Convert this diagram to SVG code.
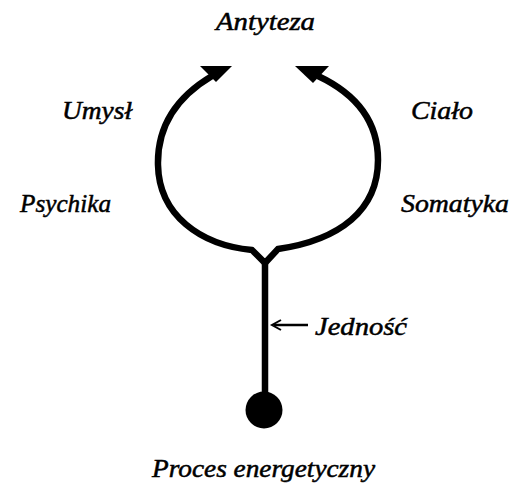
<svg xmlns="http://www.w3.org/2000/svg" width="513" height="484" viewBox="0 0 513 484">
<style>
.t{font-family:"Liberation Serif","Times New Roman",serif;font-style:italic;font-size:25px;fill:#000;stroke:#000;stroke-width:0.5}
.c{fill:none;stroke:#000;stroke-width:6.5;stroke-linejoin:miter;stroke-miterlimit:10}
</style>
<rect width="513" height="484" fill="#fff"/>
<g id="connectors">
<path class="c" d="M265,395 L265,262"/>
<path class="c" d="M212,76 C180,95 157,122 158,165 C159,215 200,245 252,250 L265,263 L278,249 C340,240 378,210 378,160 C378,118 352,92 318,76"/>
<polygon points="200,66 232,66 216,82" fill="#000"/>
<polygon points="295,66 329,66 313,83" fill="#000"/>
<path d="M274,325 L308,325" stroke="#000" stroke-width="2.5"/>
<path d="M281,320 L272,325 L281,330" fill="none" stroke="#000" stroke-width="2"/>
</g>
<g id="proces">
<circle cx="264" cy="410" r="18.5" fill="#000"/>
<text class="t" x="152" y="477" textLength="223" lengthAdjust="spacingAndGlyphs">Proces energetyczny</text>
</g>
<g id="antyteza"><text class="t" x="216" y="30" textLength="99" lengthAdjust="spacingAndGlyphs">Antyteza</text></g>
<g id="umysl"><text class="t" x="62" y="119" textLength="70" lengthAdjust="spacingAndGlyphs">Umysł</text></g>
<g id="cialo"><text class="t" x="411" y="119" textLength="62" lengthAdjust="spacingAndGlyphs">Ciało</text></g>
<g id="psychika"><text class="t" x="20" y="212" textLength="91" lengthAdjust="spacingAndGlyphs">Psychika</text></g>
<g id="somatyka"><text class="t" x="401" y="212" textLength="108" lengthAdjust="spacingAndGlyphs">Somatyka</text></g>
<g id="jednosc"><text class="t" x="315" y="335" textLength="92" lengthAdjust="spacingAndGlyphs">Jedność</text></g>
</svg>
